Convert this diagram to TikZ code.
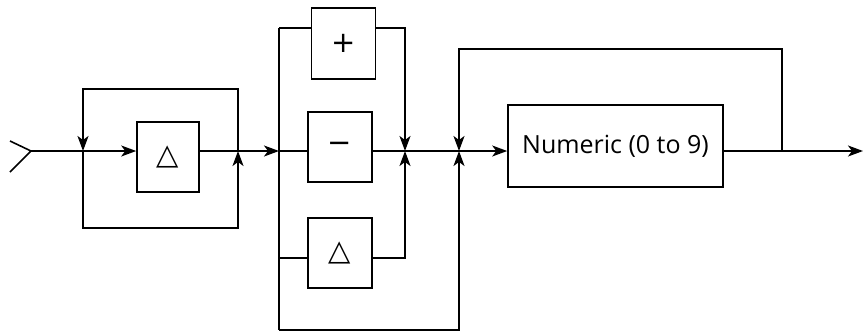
\documentclass[tikz,border=0pt]{standalone}
\usepackage{fontspec}
\setmainfont{Open Sans}
\newfontfamily\symfont{DejaVu Sans}
\usetikzlibrary{arrows.meta, positioning}

\begin{document}
\begin{tikzpicture}
  [x=1pt,y=-1pt,line width=1.6pt,
   blk/.style={draw,inner sep=0pt,minimum width=64pt,minimum height=70pt},
   sym/.style={font=\symfont\fontsize{29}{29}\selectfont},
   arr/.style={-{Stealth[length=15pt,width=11pt,inset=4pt]}}]
  \useasboundingbox (0,0) rectangle (865,333);

  \node[blk,sym,minimum width=62pt] (d1) at (168,157) {△};
  \node[blk,sym,minimum height=71pt] (plus) at (343.5,43.5) {+};
  \node[blk,sym] (minus) at (340,147) {−};
  \node[blk,sym] (d2) at (340,253) {△};
  \node[blk,minimum width=215pt,minimum height=82pt,
        font=\fontsize{25}{30}\selectfont] (num) at (615.5,146) {Numeric (0 to 9)};

  \coordinate (in) at (31,151);
  \coordinate (j1) at (83,151);
  \coordinate (j2) at (238,151);
  \coordinate (j3) at (279,151);
  \coordinate (j4) at (405,151);
  \coordinate (j5) at (459,151);
  \coordinate (j6) at (782,151);
  \coordinate (out) at (863,151);
  \coordinate (bt) at (279,28);
  \coordinate (bd) at (279,258);
  \coordinate (bb) at (279,330);

  % input and first loop
  \draw (10,141) -- (in) -- (10,172);
  \draw[arr] (in) -- (in -| d1.west);
  \draw[arr] (d1.east |- j2) -- (j3);
  \draw[arr] (j2) -- ++(0,-62) -| (j1);
  \draw[arr] (j1) -- ++(0,77) -| (j2);

  % three parallel paths
  \draw (bt) -- (bb);
  \draw (bt) -- (bt -| plus.west);
  \draw[arr] (bt -| plus.east) -| (j4);
  \draw (j3) -- (j3 -| minus.west);
  \draw[arr] (j3 -| minus.east) -- (j3 -| num.west);
  \draw (bd) -- (bd -| d2.west);
  \draw[arr] (bd -| d2.east) -| (j4);
  \draw[arr] (bb) -| (j5);

  % output and feedback
  \draw[arr] (j6) -- ++(0,-102) -| (j5);
  \draw[arr] (j6 -| num.east) -- (out);
\end{tikzpicture}
\end{document}
